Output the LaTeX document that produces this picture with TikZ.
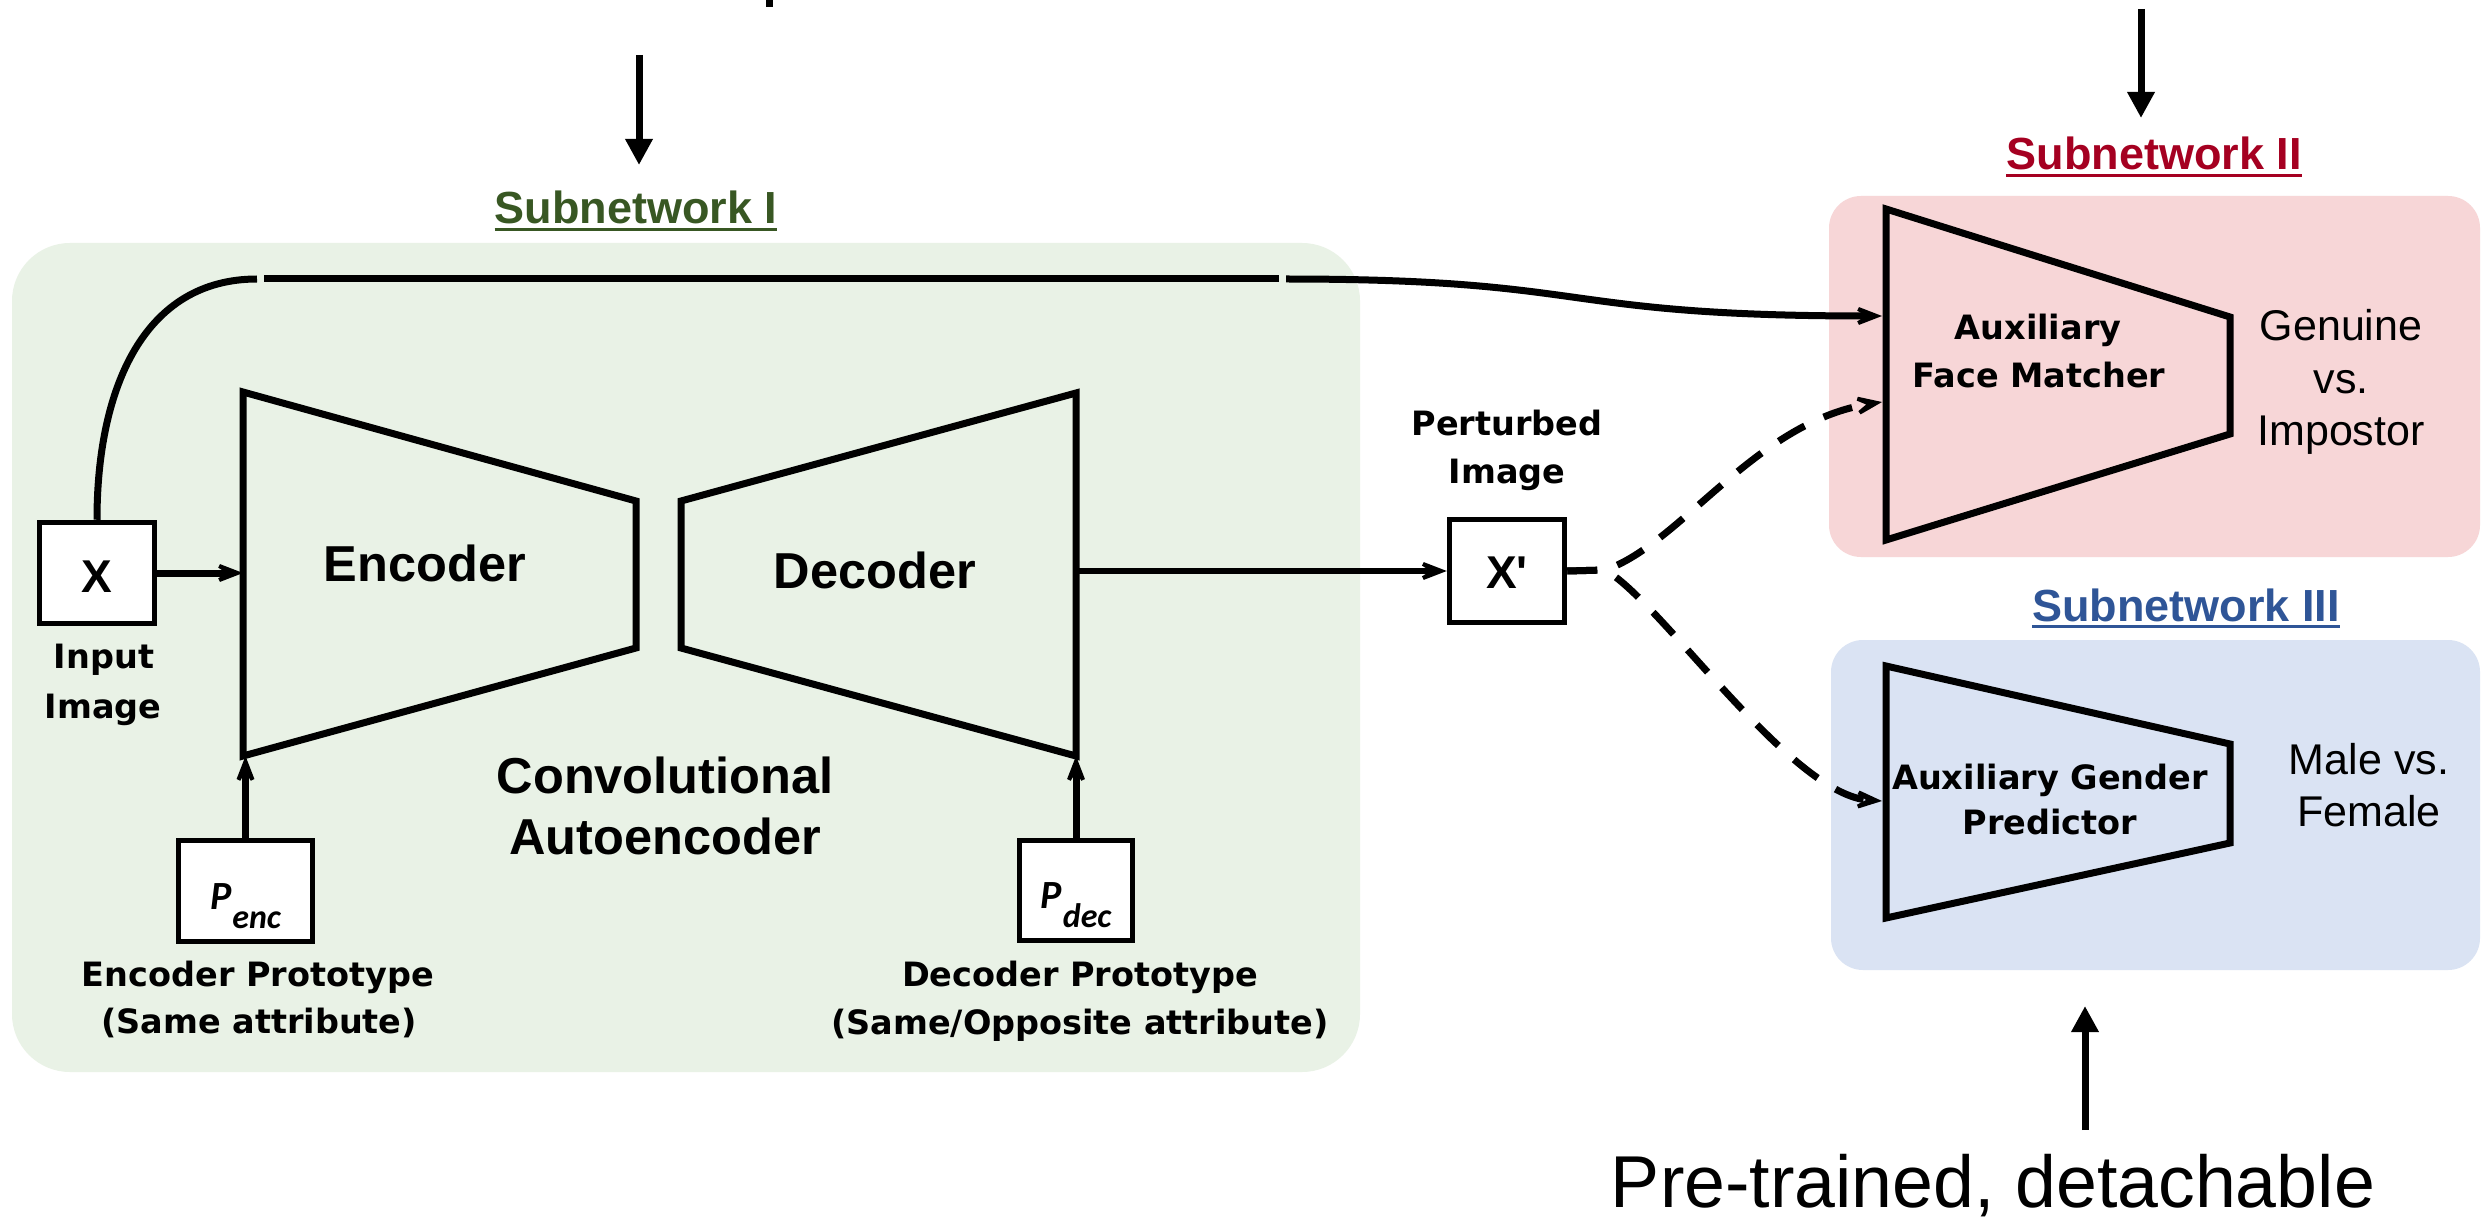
\documentclass[tikz,border=0pt]{standalone}
\usepackage{fontspec}
\setmainfont{Liberation Sans}
\newfontfamily\widefont{DejaVu Sans}
\newfontfamily\protofont{Carlito}
\usetikzlibrary{arrows.meta}

\definecolor{netgreen}{RGB}{56,87,35}
\definecolor{netred}{RGB}{165,0,33}
\definecolor{netblue}{RGB}{47,85,151}
\definecolor{bggreen}{RGB}{233,242,230}
\definecolor{bgred}{RGB}{247,214,215}
\definecolor{bgblue}{RGB}{218,227,243}

\tikzset{
  block/.style={draw=black, line width=7pt, line join=miter},
  inbox/.style={draw=black, line width=5.5pt, fill=white, inner sep=0pt,
    font=\bfseries\fontsize{46}{50}\selectfont},
  protobox/.style={draw=black, line width=5.5pt, fill=white, inner sep=0pt,
    text height=40pt, text depth=4pt},
  heavy/.style={font=\bfseries\fontsize{50.5}{60}\selectfont, inner sep=0pt, anchor=base},
  nettitle/.style={font=\bfseries\fontsize{45}{54}\selectfont, inner sep=0pt, anchor=base},
  caption/.style={font=\widefont\bfseries\fontsize{33.5}{40}\selectfont, inner sep=0pt, anchor=base},
  outcome/.style={font=\fontsize{43}{51}\selectfont, inner sep=0pt, anchor=base},
  barb/.style={-{Stealth[length=44pt,width=34pt,inset=28pt]}},
  feed/.style={line width=7pt, barb},
  pointer/.style={line width=7pt, -{Triangle[length=26pt,width=26pt]}},
  branch/.style={line width=7pt, dash pattern=on 30pt off 21pt, barb},
}

\newcommand{\proto}[1]{{\protofont\bfseries\itshape\fontsize{40}{40}\selectfont P\kern1pt\raisebox{-19pt}{\fontsize{34}{34}\selectfont #1}}}

\begin{document}
\begin{tikzpicture}[x=1pt, y=-1pt]
\useasboundingbox (0,0) rectangle (2484,1222);
\fill[white] (0,0) rectangle (2484,1222);

% panels
\fill[bggreen, rounded corners=58pt] (12,243) rectangle (1360,1072);
\fill[bgred, rounded corners=32pt] (1829,196) rectangle (2480,557);
\fill[bgblue, rounded corners=32pt] (1831,640) rectangle (2480,970);

% panel titles
\node[nettitle, text=netgreen] (sub1) at (636,224) {Subnetwork I};
\node[nettitle, text=netred] (sub2) at (2154,170) {Subnetwork II};
\node[nettitle, text=netblue] (sub3) at (2186,621) {Subnetwork III};
\draw[netgreen, line width=2.5pt] ([yshift=-5.5pt]sub1.base west) -- ([yshift=-5.5pt]sub1.base east);
\draw[netred, line width=2.5pt] ([yshift=-5.5pt]sub2.base west) -- ([yshift=-5.5pt]sub2.base east);
\draw[netblue, line width=2.5pt] ([yshift=-5.5pt]sub3.base west) -- ([yshift=-5.5pt]sub3.base east);

% fragment of the cut-off heading
\fill (766,0) rectangle (773,7);

% network blocks
\coordinate (encTL) at (243,392);
\coordinate (encTR) at (636,501);
\coordinate (encBR) at (636,648);
\coordinate (encBL) at (243,756);
\coordinate (decTL) at (681,501);
\coordinate (decTR) at (1076,393);
\coordinate (decBR) at (1076,756);
\coordinate (decBL) at (681,648);
\coordinate (fmTL) at (1886,209);
\coordinate (fmTR) at (2230,317);
\coordinate (fmBR) at (2230,434);
\coordinate (fmBL) at (1886,540);
\coordinate (gpTL) at (1886,666);
\coordinate (gpTR) at (2230,744);
\coordinate (gpBR) at (2230,843);
\coordinate (gpBL) at (1886,918);
\draw[block] (encTL) -- (encTR) -- (encBR) -- (encBL) -- cycle;
\draw[block] (decTL) -- (decTR) -- (decBR) -- (decBL) -- cycle;
\draw[block] (fmTL) -- (fmTR) -- (fmBR) -- (fmBL) -- cycle;
\draw[block] (gpTL) -- (gpTR) -- (gpBR) -- (gpBL) -- cycle;

% block labels
\node[heavy] (enclab) at (425,581) {Encoder};
\node[heavy] (declab) at (875,588) {Decoder};
\node[heavy] (conv1) at (665,793) {Convolutional};
\node[heavy] (conv2) at (665,854) {Autoencoder};
\node[caption] (fm1) at (2038,340) {Auxiliary};
\node[caption] (fm2) at (2039,388) {Face Matcher};
\node[caption] (gp1) at (2050,789) {Auxiliary Gender};
\node[caption] (gp2) at (2050,834) {Predictor};
\node[outcome] (out1) at (2341,341) {Genuine};
\node[outcome] (out2) at (2341,393) {vs.};
\node[outcome] (out3) at (2341,445) {Impostor};
\node[outcome] (out4) at (2369,774) {Male vs.};
\node[outcome] (out5) at (2369,826) {Female};

% input / output images and prototypes
\node[inbox, minimum width=115pt, minimum height=101pt, text height=38pt, text depth=0pt] (X) at (97,573) {X};
\node[inbox, minimum width=115pt, minimum height=103pt, text height=34pt, text depth=0pt] (Xp) at (1507,571) {X\textquotesingle};
\node[protobox, minimum width=134pt, minimum height=101pt] (Penc) at (245.5,891) {\proto{enc}};
\node[protobox, minimum width=113pt, minimum height=100pt] (Pdec) at (1076,890.5) {\proto{dec}};

\node[caption] (in1) at (104,668) {Input};
\node[caption] (in2) at (103,718) {Image};
\node[caption] (pt1) at (1507,435) {Perturbed};
\node[caption] (pt2) at (1507,483) {Image};
\node[caption] (ep1) at (258,986) {Encoder Prototype};
\node[caption] (ep2) at (259,1033) {(Same attribute)};
\node[caption] (dp1) at (1080,986) {Decoder Prototype};
\node[caption] (dp2) at (1080,1034) {(Same/Opposite attribute)};

% connectors inside the autoencoder
\draw[feed] (X.east) -- (X.east -| encTL);
\draw[feed] (Penc.north) -- (Penc.north |- encBL);
\draw[feed] (Pdec.north) -- (Pdec.north |- decBR);
\draw[line width=5.5pt, barb] (Xp.west -| decTR) -- (Xp.west);

% skip path from the input image to the face matcher
\coordinate (loopA) at (257,279);
\coordinate (loopB) at (264,279);
\coordinate (loopC) at (1279,279);
\coordinate (loopD) at (1286,279);
\coordinate (fmHigh) at (1882,316);
\draw[line width=7pt] (X.north) .. controls (97,388) and (144,279) .. (loopA);
\draw[line width=7pt] (loopB) -- (loopC);
\draw[feed] (loopD) .. controls (1600,279) and (1550,316) .. (fmHigh);

% perturbed image to the auxiliary networks
\coordinate (split) at (1605,570);
\coordinate (fmLow) at (1882,402);
\coordinate (gpIn) at (1882,801);
\draw[branch] (Xp.east) -- (split) .. controls (1680,545) and (1755,422) .. (fmLow);
\draw[branch] (Xp.east) -- (split) .. controls (1660,600) and (1790,795) .. (gpIn);

% annotation pointers
\coordinate (hintA0) at (639,55);
\coordinate (hintA1) at (639,165);
\coordinate (hintB0) at (2141,9);
\coordinate (hintB1) at (2141,118);
\coordinate (hintC0) at (2085,1130);
\coordinate (hintC1) at (2085,1006);
\draw[pointer] (hintA0) -- (hintA1);
\draw[pointer] (hintB0) -- (hintB1);
\draw[pointer] (hintC0) -- (hintC1);
\node[font=\fontsize{73.5}{80}\selectfont, inner sep=0pt, anchor=base] (pretext) at (1993,1207) {Pre-trained, detachable};
\end{tikzpicture}
\end{document}
